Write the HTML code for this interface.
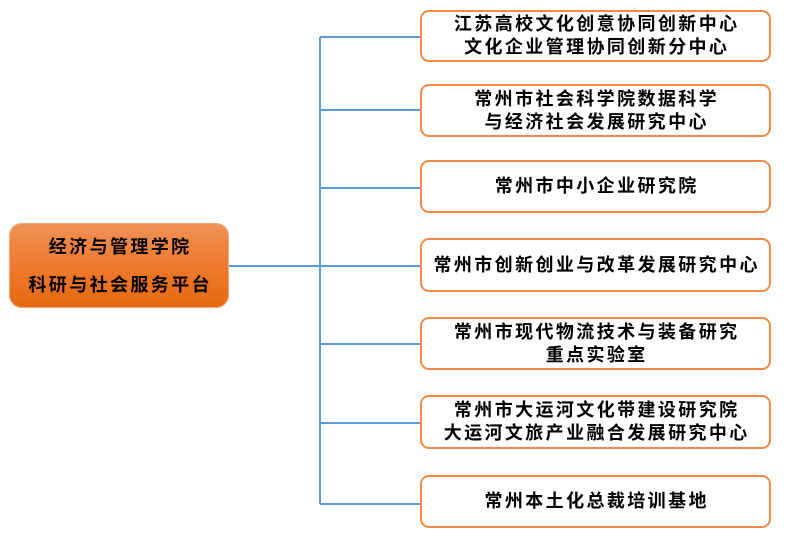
<!DOCTYPE html>
<html><head><meta charset="utf-8">
<style>
html,body{margin:0;padding:0;background:#fff;}
body{width:799px;height:540px;position:relative;overflow:hidden;font-family:"Liberation Sans","Noto Sans CJK SC",sans-serif;}
.b{position:absolute;left:420px;width:347px;border:2.5px solid #F28A45;border-radius:9px;background:#fff;display:flex;flex-direction:column;justify-content:center;align-items:center;box-sizing:content-box;}
.t{font-size:18px;font-weight:bold;color:#000;letter-spacing:2.4px;padding-left:2.4px;line-height:23px;white-space:nowrap;}
.root{position:absolute;left:9px;top:223px;width:220px;height:85px;border-radius:13px;background:linear-gradient(#F19257,#EF7A2E 50%,#E5690F);display:flex;flex-direction:column;justify-content:center;align-items:center;box-shadow:0 0 0 1px #F4A878 inset;}
.root .t{line-height:38px;}
</style></head><body>
<svg width="799" height="540" style="position:absolute;left:0;top:0">
<g stroke="#5B9BD5" stroke-width="2" fill="none">
<line x1="320" y1="37" x2="320" y2="504"/>
<line x1="229" y1="266" x2="420" y2="266"/>
<line x1="320" y1="37" x2="420" y2="37"/>
<line x1="320" y1="110" x2="420" y2="110"/>
<line x1="320" y1="188" x2="420" y2="188"/>
<line x1="320" y1="344" x2="420" y2="344"/>
<line x1="320" y1="423" x2="420" y2="423"/>
<line x1="320" y1="504" x2="420" y2="504"/>
</g>
</svg>
<div class="root"><div class="t">经济与管理学院</div><div class="t">科研与社会服务平台</div></div>
<div class="b" style="top:10px;height:48px"><div class="t">江苏高校文化创意协同创新中心</div><div class="t">文化企业管理协同创新分中心</div></div>
<div class="b" style="top:84px;height:49px"><div class="t">常州市社会科学院数据科学</div><div class="t">与经济社会发展研究中心</div></div>
<div class="b" style="top:160px;height:49px"><div class="t">常州市中小企业研究院</div></div>
<div class="b" style="top:238px;height:50px"><div class="t">常州市创新创业与改革发展研究中心</div></div>
<div class="b" style="top:317px;height:49px"><div class="t">常州市现代物流技术与装备研究</div><div class="t">重点实验室</div></div>
<div class="b" style="top:395px;height:50px"><div class="t">常州市大运河文化带建设研究院</div><div class="t">大运河文旅产业融合发展研究中心</div></div>
<div class="b" style="top:475px;height:49px"><div class="t">常州本土化总裁培训基地</div></div>
</body></html>
